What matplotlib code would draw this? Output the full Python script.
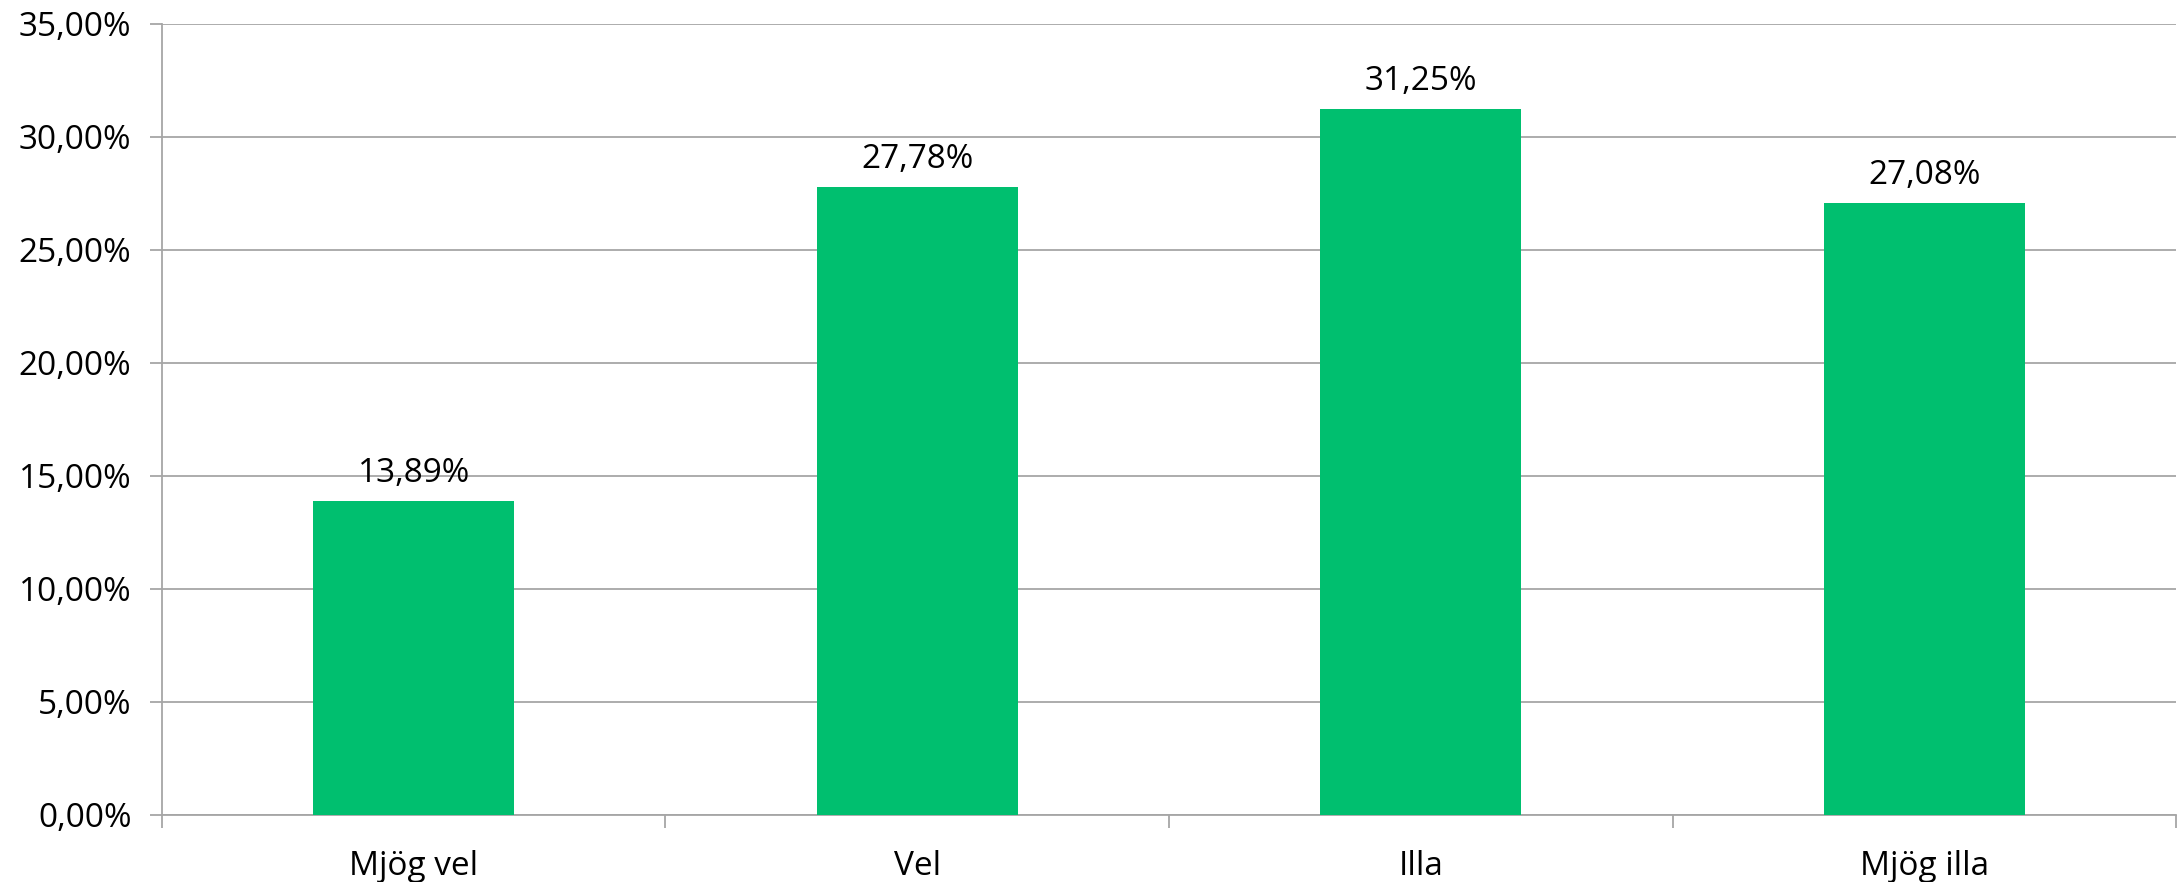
import numpy as np
import matplotlib.pyplot as plt
from matplotlib.ticker import FuncFormatter, FixedLocator

categories = ['Mjög vel', 'Vel', 'Illa', 'Mjög illa']
values = [13.89, 27.78, 31.25, 27.08]

plt.rcParams['font.family'] = ['Open Sans', 'DejaVu Sans']

fig = plt.figure(figsize=(21.83, 8.82), dpi=100)
ax = fig.add_axes([0.0742, 0.076, 0.9226, 0.8968])

x = np.arange(len(categories))
ax.bar(x, values, width=0.4, color='#00BF6F', zorder=3)

for xi, v in zip(x, values):
    ax.annotate(f'{v:.2f}%'.replace('.', ','), (xi, v), xytext=(0, 8),
                textcoords='offset points', ha='center', va='bottom', fontsize=24)

ax.set_xlim(-0.5, len(categories) - 0.5)
ax.set_ylim(0, 35)
ax.set_yticks(np.arange(0, 36, 5))
ax.yaxis.set_major_formatter(FuncFormatter(lambda v, p: f'{v:.2f}%'.replace('.', ',')))
ax.grid(axis='y', color='#a6a6a6', linewidth=1.3, zorder=0)

# category labels centred, tick marks on the boundaries
ax.set_xticks(x)
ax.set_xticklabels(categories, fontsize=24)
ax.xaxis.set_minor_locator(FixedLocator(np.arange(-0.5, len(categories), 1)))
ax.tick_params(axis='x', which='major', length=0, pad=25)
ax.tick_params(axis='x', which='minor', length=9, width=1.3, color='#a6a6a6')
ax.tick_params(axis='y', length=9, width=1.3, color='#a6a6a6', labelsize=24, pad=13)

for s in ['top', 'right']:
    ax.spines[s].set_visible(False)
for s in ['left', 'bottom']:
    ax.spines[s].set_color('#a6a6a6')
    ax.spines[s].set_linewidth(1.3)

fig.savefig('out.png', dpi=100)
